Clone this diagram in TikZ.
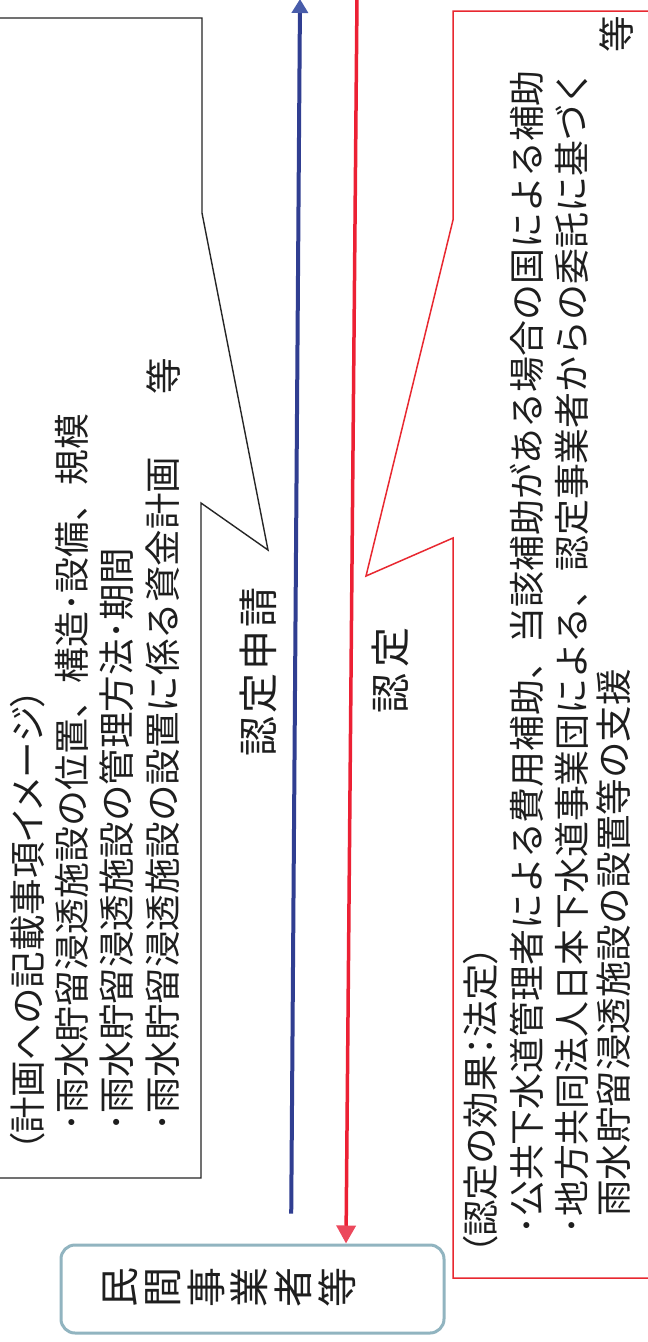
\documentclass[tikz,border=0pt]{standalone}
\usepackage{fontspec}
\newfontfamily\jp{Noto Sans CJK JP}
\newfontfamily\jpp{Noto Sans CJK JP}[RawFeature=+palt]
\usetikzlibrary{arrows.meta}
\definecolor{arrowblue}{RGB}{48,62,145}
\definecolor{headblue}{RGB}{72,92,170}
\definecolor{arrowred}{RGB}{236,32,52}
\definecolor{headred}{RGB}{236,72,92}
\definecolor{calloutred}{RGB}{232,40,48}
\definecolor{boxedge}{RGB}{145,180,192}
\definecolor{ink}{RGB}{30,30,30}
\begin{document}
\begin{tikzpicture}[x=1pt,y=-1pt,
  txt/.style={rotate=90, anchor=west, inner sep=0pt, text=ink,
    font=\jp\fontsize{36.5}{40}\selectfont, text height=32pt, text depth=4.4pt},
  txtn/.style={txt, font=\jp\fontsize{35.9}{40}\selectfont},
  ptxt/.style={txt, font=\jpp\fontsize{36.5}{40}\selectfont},
  label/.style={rotate=90, anchor=center, inner sep=0pt, text=ink,
    font=\jp\fontsize{40}{44}\selectfont, text height=35pt, text depth=4.8pt},
  calloutblack/.style={draw=black!85, line width=1.4pt, line join=miter},
  calloutred/.style={draw=calloutred, line width=1.5pt, line join=miter},
  boxstyle/.style={draw=boxedge, line width=3pt, rounded corners=14pt, inner sep=0pt},
  bluearrow/.style={draw=arrowblue, line width=4pt,
    -{Triangle[width=16pt,length=14pt,fill=headblue,color=headblue]}},
  redarrow/.style={draw=arrowred, line width=3.5pt,
    -{Triangle[width=19pt,length=18pt,fill=headred,color=headred]}}
]
\useasboundingbox (0,0) rectangle (648,1342);
\clip (0,0) rectangle (648,1342);
\fill[white] (0,0) rectangle (648,1342);

% callouts
\draw[calloutblack] (-5,18) -- (202,18) -- (202,213) -- (268,550) -- (201,503) -- (201,1178) -- (-5,1178);
\draw[calloutred] (652,11) -- (453,11) -- (453,220) -- (366,576) -- (453,538) -- (453,1278) -- (652,1278);

% box
\node[boxstyle, minimum width=383pt, minimum height=88pt] (jigyo) at (252.5,1289) {};
\node[rotate=90, align=center, inner sep=0pt, text=ink,
  font=\jp\fontsize{40}{43.6}\selectfont] (jigyotext) at (229,1287) {民\\間\\事\\業\\者\\等};

% arrows
\coordinate (bluetop) at (300,-1);
\coordinate (bluebot) at (291,0);
\coordinate (redtop) at (357,-3);
\coordinate (redbot) at (346,0);
\draw[bluearrow, shorten <=30pt] (jigyo.north -| bluebot) -- (bluetop);
\draw[redarrow] (redtop) -- (jigyo.north -| redbot);

% arrow labels
\node[label] (shinsei) at (258.5,671.5) {認\kern3pt定\kern3pt申\kern3pt請};
\node[label] (nintei) at (390.5,670) {認\kern6pt定};

% black callout text
\node[ptxt] (b1) at (28,1152) {（計画への記載事項イメージ）};
\node[txtn] (b2) at (72,1132) {･雨水貯留浸透施設の位置、構造･設備、規模};
\node[txt] (b3) at (117,1132) {･雨水貯留浸透施設の管理方法･期間};
\node[txt] (b4) at (163,1132) {･雨水貯留浸透施設の設置に係る資金計画};
\node[txt, anchor=center] (b5) at (164,376) {等};

% red callout text
\node[ptxt] (r1) at (481,1255) {（認定の効果：法定）};
\node[txtn] (r2) at (527,1235) {･公共下水道管理者による費用補助、当該補助がある場合の国による補助};
\node[txtn] (r3) at (572,1235) {･地方共同法人日本下水道事業団による、認定事業者からの委託に基づく};
\node[txt] (r4) at (614,1217) {雨水貯留浸透施設の設置等の支援};
\node[txt, anchor=center] (r5) at (617,34) {等};
\end{tikzpicture}
\end{document}
